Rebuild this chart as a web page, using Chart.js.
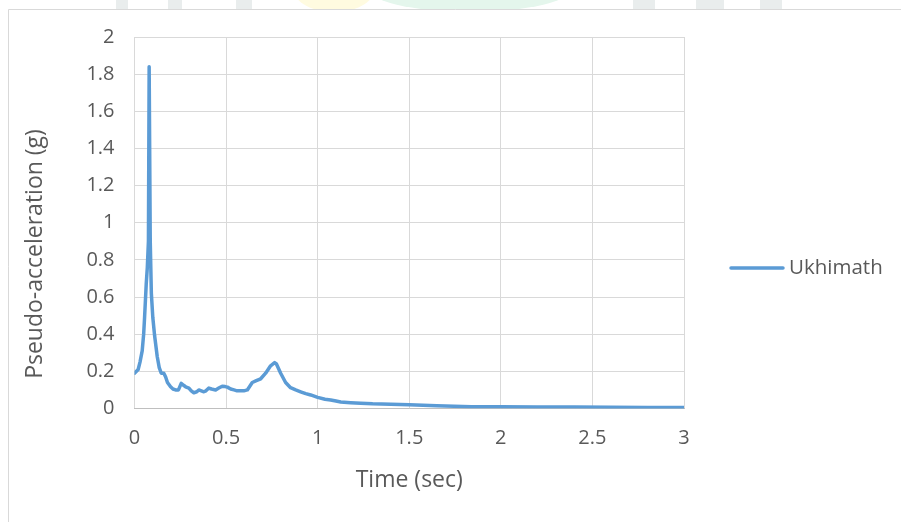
<!DOCTYPE html>
<html>
<head>
<meta charset="utf-8">
<style>
  html, body { margin: 0; padding: 0; background: #ffffff; }
  #wrap { width: 901px; height: 522px; position: relative; }
</style>
<script src="https://cdn.jsdelivr.net/npm/chart.js@4.4.1/dist/chart.umd.min.js"></script>
</head>
<body>
<div id="wrap"><canvas id="chart" width="901" height="522"></canvas></div>
<script>
// Response spectrum, Ukhimath station
const seriesName = 'Ukhimath';
const periods = [
  0, 0.02, 0.03, 0.042, 0.05, 0.055, 0.064, 0.07, 0.076, 0.08,
  0.086, 0.092, 0.1, 0.11, 0.124, 0.135, 0.146, 0.16, 0.17, 0.18,
  0.197, 0.21, 0.224, 0.24, 0.255, 0.268, 0.279, 0.297, 0.31, 0.324,
  0.34, 0.351, 0.365, 0.379, 0.39, 0.406, 0.42, 0.443, 0.46, 0.479,
  0.495, 0.507, 0.525, 0.543, 0.56, 0.58, 0.597, 0.616, 0.643, 0.665,
  0.689, 0.716, 0.743, 0.765, 0.775, 0.798, 0.825, 0.852, 0.88, 0.907,
  0.935, 0.962, 1.0, 1.04, 1.071, 1.1, 1.126, 1.18, 1.235, 1.3,
  1.4, 1.5, 1.65, 1.84, 2.0, 2.2, 2.4, 2.6, 2.8, 3.0
];
const pseudoAccel = [
  0.19, 0.21, 0.25, 0.31, 0.4, 0.49, 0.67, 0.76, 0.9, 1.84,
  0.9, 0.62, 0.49, 0.39, 0.28, 0.22, 0.19, 0.19, 0.17, 0.14,
  0.117, 0.105, 0.1, 0.1, 0.135, 0.125, 0.117, 0.11, 0.095, 0.085,
  0.09, 0.1, 0.095, 0.09, 0.095, 0.11, 0.105, 0.1, 0.11, 0.12,
  0.118, 0.115, 0.105, 0.1, 0.095, 0.095, 0.095, 0.1, 0.14, 0.15,
  0.16, 0.19, 0.23, 0.247, 0.24, 0.19, 0.14, 0.112, 0.1, 0.09,
  0.08, 0.073, 0.06, 0.05, 0.046, 0.04, 0.035, 0.031, 0.028, 0.025,
  0.023, 0.02, 0.015, 0.01, 0.009, 0.008, 0.008, 0.007, 0.006, 0.005
];
const xTickValues = [0, 0.5, 1, 1.5, 2, 2.5, 3];
const yTickValues = [0, 0.2, 0.4, 0.6, 0.8, 1, 1.2, 1.4, 1.6, 1.8, 2];
const xTitle = 'Time (sec)';
const yTitle = 'Pseudo-acceleration (g)';

const lineColor = '#5b9bd5';
const textColor = '#595959';
const gridColor = '#d9d9d9';
const fontFamily = '"Open Sans", "DejaVu Sans", sans-serif';

// Page background strip above the chart object, then the chart's light frame
const framePlugin = {
  id: 'frame',
  beforeDraw(chart) {
    const ctx = chart.ctx;
    ctx.save();
    ctx.fillStyle = '#ffffff';
    ctx.fillRect(0, 0, chart.width, chart.height);
    // faint page decoration peeking out above the frame
    ctx.beginPath();
    ctx.rect(0, 0, chart.width, 9);
    ctx.clip();
    ctx.fillStyle = '#e9eded';
    [[116, 12], [168, 14], [236, 16], [633, 22], [696, 28], [760, 22]].forEach(([x, w]) => {
      ctx.fillRect(x, 0, w, 9);
    });
    ctx.fillStyle = '#fffbe0';
    ctx.beginPath();
    ctx.ellipse(334, -10, 40, 22, 0, 0, Math.PI * 2);
    ctx.fill();
    ctx.fillStyle = '#e4f6ec';
    ctx.beginPath();
    ctx.ellipse(470, -14, 105, 26, 0, 0, Math.PI * 2);
    ctx.fill();
    ctx.restore();

    ctx.save();
    ctx.strokeStyle = '#d9d9d9';
    ctx.lineWidth = 1;
    ctx.beginPath();
    ctx.moveTo(8.5, chart.height + 2);
    ctx.lineTo(8.5, 9.5);
    ctx.lineTo(chart.width + 2, 9.5);
    ctx.stroke();
    ctx.restore();
  }
};

// Vertical axis title, placed beside the value labels
const yTitlePlugin = {
  id: 'yTitle',
  afterDraw(chart) {
    const ctx = chart.ctx;
    ctx.save();
    ctx.translate(35, 254);
    ctx.rotate(-Math.PI / 2);
    ctx.fillStyle = textColor;
    ctx.font = '23px ' + fontFamily;
    ctx.textAlign = 'center';
    ctx.textBaseline = 'middle';
    ctx.fillText(yTitle, 0, 0);
    ctx.restore();
  }
};

// Legend entry at the right of the plot
const sideLegendPlugin = {
  id: 'sideLegend',
  afterDraw(chart) {
    const ctx = chart.ctx;
    const ds = chart.data.datasets[0];
    const y = 268;
    ctx.save();
    ctx.strokeStyle = ds.borderColor;
    ctx.lineWidth = 3.5;
    ctx.lineCap = 'round';
    ctx.beginPath();
    ctx.moveTo(731, y);
    ctx.lineTo(783, y);
    ctx.stroke();
    ctx.fillStyle = textColor;
    ctx.font = '20.5px ' + fontFamily;
    ctx.textBaseline = 'middle';
    ctx.textAlign = 'left';
    ctx.fillText(ds.label, 789, y);
    ctx.restore();
  }
};

const points = periods.map((t, i) => ({ x: t, y: pseudoAccel[i] }));

new Chart(document.getElementById('chart'), {
  type: 'scatter',
  data: {
    datasets: [{
      label: seriesName,
      data: points,
      showLine: true,
      borderColor: lineColor,
      backgroundColor: lineColor,
      borderWidth: 3.5,
      pointRadius: 0,
      tension: 0,
      borderJoinStyle: 'round',
      borderCapStyle: 'round'
    }]
  },
  options: {
    responsive: false,
    animation: false,
    devicePixelRatio: 1,
    layout: { padding: { top: 37, right: 217, left: 0, bottom: 28 } },
    plugins: {
      legend: { display: false },
      tooltip: { enabled: false }
    },
    scales: {
      x: {
        type: 'linear',
        min: 0,
        max: 3,
        afterBuildTicks(scale) { scale.ticks = xTickValues.map(v => ({ value: v })); },
        afterFit(scale) { scale.height = 522 - 28 - 408.5; },
        grid: { color: gridColor, lineWidth: 1, drawTicks: false },
        border: { color: '#bfbfbf', width: 1 },
        ticks: {
          color: textColor,
          font: { family: fontFamily, size: 20 },
          padding: 18,
          maxRotation: 0,
          callback: v => String(v)
        },
        title: {
          display: true,
          text: xTitle,
          color: textColor,
          font: { family: fontFamily, size: 23 },
          padding: { top: 10, bottom: 0 }
        }
      },
      y: {
        type: 'linear',
        min: 0,
        max: 2,
        afterBuildTicks(scale) { scale.ticks = yTickValues.map(v => ({ value: v })); },
        afterFit(scale) { scale.width = 134.5; },
        grid: { color: gridColor, lineWidth: 1, drawTicks: false },
        border: { display: false },
        ticks: {
          color: textColor,
          font: { family: fontFamily, size: 20 },
          padding: 20,
          callback: v => String(v)
        },
        title: { display: false }
      }
    }
  },
  plugins: [framePlugin, yTitlePlugin, sideLegendPlugin]
});
</script>
</body>
</html>
